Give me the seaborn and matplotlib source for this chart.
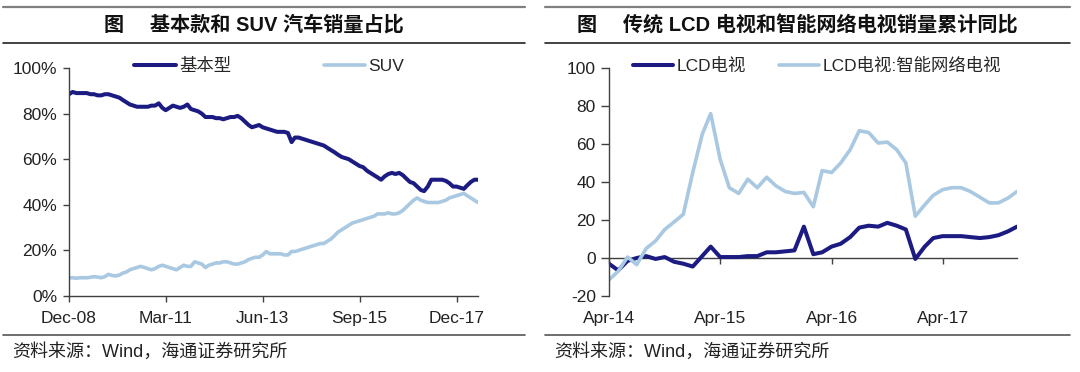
import pandas as pd
import numpy as np
import matplotlib
matplotlib.use("Agg")
import matplotlib.pyplot as plt
import matplotlib.dates as mdates
from matplotlib.lines import Line2D
from matplotlib.ticker import PercentFormatter
import seaborn as sns

# ---- data: basic vs SUV share of car sales (%), monthly from Dec-08 ----
car_dates = pd.date_range("2008-12-01", periods=115, freq="MS")
basic_share = [
    88.5, 89.5, 89, 89, 89, 89, 88.5, 88.5, 88, 88, 88.5, 88.5, 88, 87.5, 87,
    86, 85, 84, 83.5, 83, 83, 83, 83, 83.5, 83.5, 84.5, 82.5, 81.5, 82.5, 83.5,
    83, 82.5, 83, 84, 82, 81.5, 81, 80, 78.5, 78.5, 78.5, 78, 78, 77.5, 78,
    78.5, 78.5, 79, 78, 76.5, 75, 74, 74.5, 75, 74, 73.5, 73, 72.5, 72, 72,
    72, 71.5, 67.5, 69.5, 69.5, 69, 68.5, 68, 67.5, 67, 66.5, 66, 65, 64, 63,
    62, 61, 60.5, 60, 59, 58, 57, 56.5, 55, 54, 53, 52, 51, 52.5, 53.5,
    54, 53.5, 54, 53, 51.5, 50, 49.5, 48, 46.5, 46, 48, 51, 51, 51, 51,
    50.5, 49.5, 48, 48, 47.5, 47, 48.5, 50, 51, 51,
]
suv_share = [
    8, 8, 7.8, 8, 8, 8, 8.2, 8.5, 8.3, 8, 8.5, 9.5, 9, 8.8, 9.2,
    10, 10.5, 11.5, 12, 12.5, 13, 12.5, 12, 11.5, 12, 13, 13.5, 13, 12.5, 12,
    11.5, 12.5, 13.5, 13, 13, 15, 14.5, 14, 12.5, 13.5, 14, 14.5, 14.5, 15, 15,
    14.5, 14, 14, 14.5, 15, 16, 16.5, 17, 17, 18, 19.5, 18.5, 18.5, 18.5, 18.5,
    18, 18, 19.5, 19.5, 20, 20.5, 21, 21.5, 22, 22.5, 23, 23, 24, 25, 26.5,
    28, 29, 30, 31, 32, 32.5, 33, 33.5, 34, 34.5, 35, 36, 36, 36, 36.5,
    36, 36, 36.5, 37.5, 39, 40.5, 42, 43, 42, 41.5, 41, 41, 41, 41, 41.5,
    42, 43, 43.5, 44, 44.5, 45, 44, 43, 42, 41,
]
car_ticks = pd.to_datetime(["2008-12-01", "2011-03-01", "2013-06-01",
                            "2015-09-01", "2017-12-01"])

# ---- data: LCD TV vs smart TV cumulative YoY (%), monthly from Apr-14 ----
tv_dates = pd.date_range("2014-04-01", periods=45, freq="MS")
lcd_yoy = [
    -3, -6.5, -1.5, 0, 1, -0.5, 0.5, -2, -3, -4.5, 1, 6, 0.5, 0.5, 0.5,
    1, 1, 3, 3, 3.5, 4, 16.5, 2, 3, 6, 7.5, 11, 16, 17, 16.5,
    18.5, 17, 15, -0.5, 6, 10.5, 11.5, 11.5, 11.5, 11, 10.5, 11, 12, 14, 16.5,
]
smart_yoy = [
    -11.5, -7, 0.5, -3.5, 5, 9, 15, 19, 23, 45, 65, 76, 52, 37, 34,
    41.5, 37, 42.5, 38, 35, 34, 34.5, 27, 46, 45, 50, 57, 67, 66, 60.5,
    61, 57, 50, 22, 28, 33, 36, 37, 37, 35, 32, 29, 29, 31.5, 35,
]
tv_ticks = pd.to_datetime(["2014-04-01", "2015-04-01", "2016-04-01", "2017-04-01"])

DARK = "#1b1b82"
LIGHT = "#a9c8e2"
AXIS = "#404040"

sns.set_theme(style="white")
plt.rcParams["font.family"] = ["Liberation Sans", "Noto Sans CJK SC", "DejaVu Sans"]
plt.rcParams["axes.unicode_minus"] = False

fig = plt.figure(figsize=(10.8, 3.72), dpi=100)
W, H = 1080, 372


def fx(px):
    return px / W


def fy(py):
    return 1 - py / H


ax1 = fig.add_axes([fx(69), fy(296), fx(478 - 69), (296 - 68) / H])
ax2 = fig.add_axes([fx(609), fy(296), fx(1017 - 609), (296 - 68) / H])

# left chart
sns.lineplot(x=car_dates, y=basic_share, ax=ax1, color=DARK, lw=2.9, label="基本型")
sns.lineplot(x=car_dates, y=suv_share, ax=ax1, color=LIGHT, lw=2.6, label="SUV")
ax1.set_xlim(car_dates[0], car_dates[-1])
ax1.set_ylim(0, 100)
ax1.set_yticks(range(0, 101, 20))
ax1.yaxis.set_major_formatter(PercentFormatter(xmax=100, decimals=0))
ax1.set_xticks(car_ticks)
ax1.xaxis.set_major_formatter(mdates.DateFormatter("%b-%y"))

# right chart
sns.lineplot(x=tv_dates, y=lcd_yoy, ax=ax2, color=DARK, lw=2.9, label="LCD电视")
sns.lineplot(x=tv_dates, y=smart_yoy, ax=ax2, color=LIGHT, lw=2.6, label="LCD电视:智能网络电视")
ax2.set_xlim(tv_dates[0], tv_dates[-1])
ax2.set_ylim(-20, 100)
ax2.set_yticks(range(-20, 101, 20))
ax2.set_xticks(tv_ticks)
ax2.xaxis.set_major_formatter(mdates.DateFormatter("%b-%y"))

for ax in (ax1, ax2):
    ax.set_xlabel("")
    ax.set_ylabel("")
    for s in ("top", "right"):
        ax.spines[s].set_visible(False)
    for s in ("left", "bottom"):
        ax.spines[s].set_color(AXIS)
        ax.spines[s].set_linewidth(1.0)
    ax.tick_params(axis="y", direction="out", length=4.5, width=1, color=AXIS,
                   pad=4, labelsize=12.5, labelcolor="#222222", left=True)
    ax.tick_params(axis="x", direction="out", length=4, width=1, color=AXIS,
                   pad=7, labelsize=12.5, labelcolor="#222222", bottom=True)
    ax.patch.set_alpha(0)

# right chart: horizontal axis line sits at zero, labels stay at the bottom
ax2.spines["bottom"].set_visible(False)
ax2.tick_params(axis="x", length=0, pad=11)
ax2.tick_params(axis="y", length=5.5, pad=4)
zero_pos = (0 - ax2.get_ylim()[0]) / (ax2.get_ylim()[1] - ax2.get_ylim()[0])
sec = ax2.secondary_xaxis(zero_pos)
sec.set_xticks(mdates.date2num(tv_ticks))
sec.tick_params(axis="x", direction="out", length=4.5, width=1, color=AXIS,
                labelbottom=False)
sec.spines["bottom"].set_color(AXIS)
sec.spines["bottom"].set_linewidth(1.0)

ax1.legend(loc="center", bbox_to_anchor=(0.49, 1.01), ncol=2, frameon=False,
           handlelength=2.4, handletextpad=0.2, columnspacing=5.3, fontsize=12.5,
           borderaxespad=0)
ax2.legend(loc="center", bbox_to_anchor=(0.51, 1.01), ncol=2, frameon=False,
           handlelength=2.3, handletextpad=0.2, columnspacing=1.9, fontsize=12.5,
           borderaxespad=0)

# title bars, rules and source notes
for x0, x1, cx, title in [(3, 525, 254, "图　 基本款和 SUV 汽车销量占比"),
                          (545, 1070, 797, "图　 传统 LCD 电视和智能网络电视销量累计同比")]:
    fig.add_artist(Line2D([fx(x0), fx(x1)], [fy(7), fy(7)], color="#808080", lw=1.6))
    fig.add_artist(Line2D([fx(x0), fx(x1)], [fy(43), fy(43)], color="#222222", lw=1.2))
    fig.add_artist(Line2D([fx(x0), fx(x1)], [fy(335), fy(335)], color="#555555", lw=1.2))
    fig.text(fx(cx), fy(25), title, ha="center", va="center", fontsize=14.5,
             fontweight="bold", color="#111111")
    fig.text(fx(x0 + 9), fy(352), "资料来源：Wind，海通证券研究所", ha="left",
             va="center", fontsize=13, color="#222222")

fig.savefig("out.png", dpi=100)
